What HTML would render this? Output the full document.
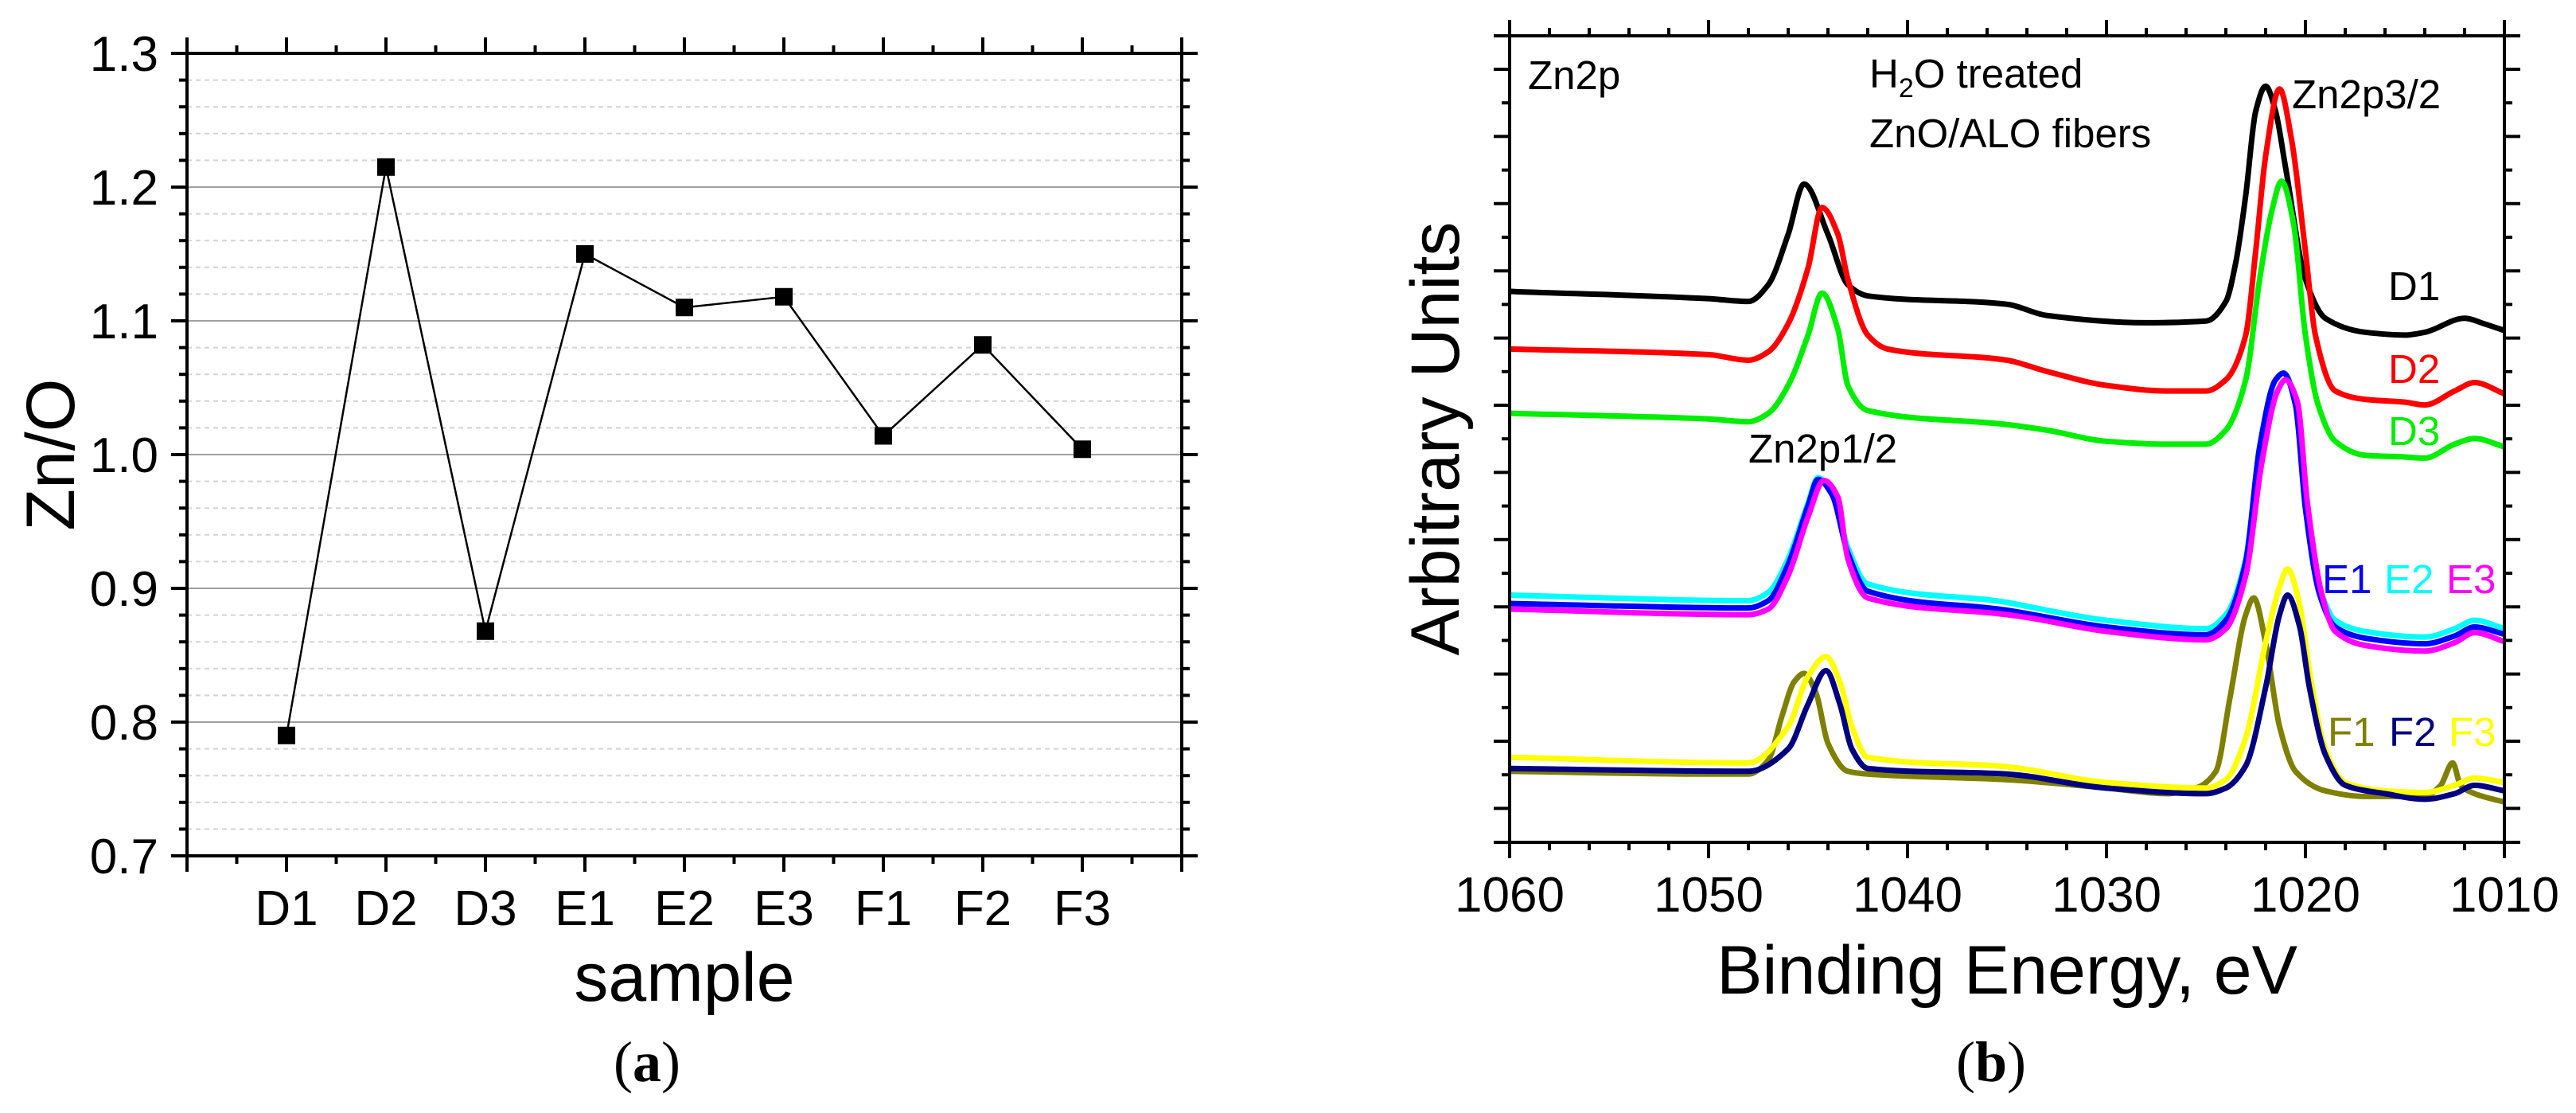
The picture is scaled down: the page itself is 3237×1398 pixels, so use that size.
<!DOCTYPE html>
<html><head><meta charset="utf-8">
<style>
html,body{margin:0;padding:0;background:#fff;}
svg{display:block;font-family:"Liberation Sans",Arial,sans-serif;}
</style></head>
<body>
<svg id="fig" width="3237" height="1398" viewBox="0 0 3237 1398" xmlns="http://www.w3.org/2000/svg">
  <rect x="0" y="0" width="3237" height="1398" fill="#fff"/>
  <g id="chartA"></g>
  <g id="chartB"></g>
</svg>
<script>
// ---------- Chart (a) data ----------
const categories = ["D1","D2","D3","E1","E2","E3","F1","F2","F3"];
const znoValues = [0.79,1.215,0.868,1.15,1.11,1.118,1.014,1.082,1.004];
const yTicksA = ["0.7","0.8","0.9","1.0","1.1","1.2","1.3"];

// ---------- Chart (b) data (energy in eV; intensity in arbitrary units, inverted raw scale) ----------
const xTicksB = [1060,1050,1040,1030,1020,1010];
const eD1=[1060,1050,1048,1047,1046,1045.2,1044,1043,1042,1035,1033,1028,1025,1024,1023.5,1023,1022.5,1022,1021.5,1021,1020,1019,1017,1015,1014,1012,1011,1010];
const vD1=[522,535,540,510,420,330,420,510,530,545,565,578,575,540,470,350,200,155,200,300,500,570,595,600,595,570,580,592];
const eD2=[1060,1050,1048,1047,1046,1045,1044.3,1043.5,1043,1042,1041,1035,1033,1030,1027,1025,1024,1023,1022.5,1022,1021.3,1020.7,1020,1019.5,1018.5,1017,1015,1014,1012.5,1011.5,1010];
const vD2=[625,635,645,630,580,480,372,420,500,600,625,645,665,690,700,700,680,600,450,280,160,250,450,600,700,715,720,725,700,685,705];
const eD3=[1060,1050,1048,1047,1046,1045,1044.3,1043.5,1043,1042,1035,1033,1030,1027,1025,1024,1023,1022.3,1021.7,1021.2,1020.6,1020,1019.4,1018.5,1017,1015,1014,1012.5,1011.5,1010];
const vD3=[740,750,755,740,690,600,525,590,690,735,760,770,790,795,795,770,680,500,380,325,400,600,720,790,815,818,820,795,785,800];
const eE=[1060,1048,1047,1046,1045,1044.5,1043.8,1043,1042,1035,1034,1030,1025,1024,1023,1022.3,1021.5,1021.1,1020.5,1020,1019.3,1018.5,1017,1014,1012.5,1011.5,1010];
const vE1=[1080,1088,1075,1010,905,858,885,990,1058,1092,1098,1122,1136,1110,1005,800,680,668,725,910,1062,1122,1142,1152,1138,1122,1135];
const vE2=[1065,1075,1060,1000,900,855,880,980,1045,1078,1085,1110,1125,1100,1000,800,680,668,720,900,1050,1110,1130,1140,1125,1110,1125];
const eE3=[1060,1048,1047,1046,1045,1044.2,1043.5,1043,1042,1035,1034,1030,1025,1024,1023,1022.2,1021.4,1021,1020.4,1019.9,1019.2,1018.5,1017,1014,1012.5,1011.5,1010];
const vE3=[1090,1100,1090,1030,925,860,890,1000,1070,1100,1105,1130,1145,1125,1030,830,700,680,720,900,1060,1130,1155,1165,1150,1132,1148];
const eF1=[1060,1050,1048,1047,1046.3,1045.7,1045.2,1044.6,1044,1043,1042,1035,1030,1027,1025.5,1024.5,1023.8,1023,1022.6,1022,1021.3,1020.5,1019,1017,1014,1013.2,1012.6,1012.2,1011.5,1010];
const vF1=[1380,1385,1385,1360,1280,1220,1205,1240,1330,1380,1385,1395,1410,1420,1410,1380,1250,1100,1070,1150,1300,1380,1415,1425,1425,1405,1365,1405,1420,1435];
const eF=[1060,1048,1046,1045,1044.1,1043.4,1042.8,1042,1035,1030,1025,1024,1023,1022,1021.3,1020.9,1020.3,1019.8,1019,1018,1016,1014,1012.5,1011.5,1010];
const vF2=[1375,1380,1340,1260,1200,1260,1340,1375,1385,1410,1420,1410,1370,1230,1100,1065,1120,1230,1350,1405,1420,1430,1420,1405,1415];
const vF3=[1355,1365,1300,1210,1175,1220,1300,1355,1372,1400,1410,1395,1320,1150,1050,1018,1080,1200,1340,1400,1415,1418,1405,1392,1400];

const NS="http://www.w3.org/2000/svg";
function mk(parent,tag,attrs,text){const e=document.createElementNS(NS,tag);for(const k in attrs)e.setAttribute(k,attrs[k]);if(text!==undefined)e.textContent=text;parent.appendChild(e);return e;}
// monotone cubic (Fritsch-Carlson) in x
function monoPath(p){
  const n=p.length, d=[], m=[];
  for(let i=0;i<n-1;i++) d.push((p[i+1][1]-p[i][1])/(p[i+1][0]-p[i][0]));
  m[0]=d[0]; m[n-1]=d[n-2];
  for(let i=1;i<n-1;i++){
    if(d[i-1]*d[i]<=0) m[i]=0;
    else { const h0=p[i][0]-p[i-1][0], h1=p[i+1][0]-p[i][0];
      const w1=2*h1+h0, w2=h1+2*h0; m[i]=(w1+w2)/(w1/d[i-1]+w2/d[i]); }
  }
  let s='M'+p[0][0]+','+p[0][1];
  for(let i=0;i<n-1;i++){
    const h=(p[i+1][0]-p[i][0])/3;
    s+=' C'+(p[i][0]+h)+','+(p[i][1]+m[i]*h)+' '+(p[i+1][0]-h)+','+(p[i+1][1]-m[i+1]*h)+' '+p[i+1][0]+','+p[i+1][1];
  }
  return s;
}

// ---------- Chart (a) ----------
(function(){
  const g=document.getElementById('chartA');
  const L=235,R=1485,T=67,B=1075;
  const xA=i=>L+(R-L)*(i/10);
  const yA=v=>B-(v-0.7)/0.6*(B-T);
  for(let k=1;k<30;k++){
    const v=0.7+k*0.02; const y=yA(v);
    if(k%5===0){
      const ln=mk(g,'line',{x1:L,x2:R,y1:y,y2:y,stroke:'#a0a0a0','stroke-width':2});
      
      
    } else {
      const ln=mk(g,'line',{x1:L,x2:R,y1:y,y2:y,stroke:'#d4d4d4','stroke-width':2,'stroke-dasharray':'6,5'});
      
      
    }
  }
  for(let k=0;k<=30;k++){
    const y=yA(0.7+k*0.02); const len=(k%5===0)?20:10;
    mk(g,'line',{x1:L-len,x2:L,y1:y,y2:y,stroke:'#000','stroke-width':4});
    mk(g,'line',{x1:R,x2:R+len,y1:y,y2:y,stroke:'#000','stroke-width':4});
  }
  for(let k=0;k<=20;k++){
    const x=xA(k/2); const len=(k%2===0)?20:10;
    mk(g,'line',{x1:x,x2:x,y1:B,y2:B+len,stroke:'#000','stroke-width':4});
    mk(g,'line',{x1:x,x2:x,y1:T-len,y2:T,stroke:'#000','stroke-width':4});
  }
  const fr=mk(g,'rect',{x:L,y:T,width:R-L,height:B-T,fill:'none',stroke:'#000','stroke-width':4});
  
  
  yTicksA.forEach(t=>{
    const tx=mk(g,'text',{x:L-36,y:yA(parseFloat(t))+22,'font-size':62,'text-anchor':'end',fill:'#000'},t);
    
    
  });
  categories.forEach((c,i)=>{
    const tx=mk(g,'text',{x:xA(i+1),y:1162,'font-size':62,'text-anchor':'middle',fill:'#000'},c);
    
    
  });
  const pts=znoValues.map((v,i)=>xA(i+1)+','+yA(v)).join(' ');
  const pl=mk(g,'polyline',{points:pts,fill:'none',stroke:'#000','stroke-width':2.5});
  
  
  znoValues.forEach((v,i)=>{
    const r=mk(g,'rect',{x:xA(i+1)-11,y:yA(v)-11,width:22,height:22,fill:'#000'});
    
    
  });
  const xt=mk(g,'text',{x:860,y:1257,'font-size':86,'text-anchor':'middle',fill:'#000'},'sample');
  
  
  const yt=mk(g,'text',{x:0,y:0,'font-size':86,'text-anchor':'middle',fill:'#000',transform:'translate(93,571) rotate(-90)'},'Zn/O');
  
  
  const cap=mk(g,'text',{x:813,y:1358,'font-size':72,'text-anchor':'middle',fill:'#000','font-family':'"Liberation Serif",serif'});
  
  
  cap.innerHTML='(<tspan font-weight="bold">a</tspan>)';
})();

// ---------- Chart (b) ----------
(function(){
  const g=document.getElementById('chartB');
  const L=1897,R=3147,T=45,B=1058;
  const xB=e=>L+(1060-e)/50*(R-L);
  const yB=v=>T+(v-65)/(1507-65)*(B-T);
  for(let k=0;k<=23;k++){
    const y=87+k*42.2; if(y>B-2)break;
    const len=(k%2===0)?20:10;
    mk(g,'line',{x1:L-len,x2:L,y1:y,y2:y,stroke:'#000','stroke-width':4});
    mk(g,'line',{x1:R,x2:R+len,y1:y,y2:y,stroke:'#000','stroke-width':4});
  }
  mk(g,'line',{x1:L-20,x2:L,y1:B,y2:B,stroke:'#000','stroke-width':4});
  mk(g,'line',{x1:R,x2:R+20,y1:B,y2:B,stroke:'#000','stroke-width':4});
  mk(g,'line',{x1:L-20,x2:L,y1:T,y2:T,stroke:'#000','stroke-width':4});
  mk(g,'line',{x1:R,x2:R+20,y1:T,y2:T,stroke:'#000','stroke-width':4});
  for(let e=1060;e>=1010;e-=2){
    const x=xB(e); const len=(e%10===0)?20:10;
    mk(g,'line',{x1:x,x2:x,y1:B,y2:B+len,stroke:'#000','stroke-width':4});
    mk(g,'line',{x1:x,x2:x,y1:T-len,y2:T,stroke:'#000','stroke-width':4});
  }
  const series=[
    ['d1',eD1,vD1,'#000000'],['d2',eD2,vD2,'#ff0000'],['d3',eD3,vD3,'#00ee00'],
    ['e2',eE,vE2,'#00ffff'],['e1',eE,vE1,'#0000ff'],['e3',eE3,vE3,'#ff00ff'],
    ['f1',eF1,vF1,'#808000'],['f3',eF,vF3,'#ffff00'],['f2',eF,vF2,'#000080']
  ];
  series.forEach(s=>{
    const p=s[1].map((e,i)=>[xB(e),yB(s[2][i])]);
    const pl=mk(g,'path',{d:monoPath(p),fill:'none',stroke:s[3],'stroke-width':7,'stroke-linejoin':'round'});
    
    
  });
  const fr=mk(g,'rect',{x:L,y:T,width:R-L,height:B-T,fill:'none',stroke:'#000','stroke-width':4});
  
  
  xTicksB.forEach(t=>{
    const tx=mk(g,'text',{x:xB(t),y:1145,'font-size':62,'text-anchor':'middle',fill:'#000'},String(t));
    
    
  });
  const xt=mk(g,'text',{x:2522,y:1248,'font-size':86,'text-anchor':'middle',fill:'#000'},'Binding Energy, eV');
  
  
  const yt=mk(g,'text',{x:0,y:0,'font-size':86,'text-anchor':'middle',fill:'#000',transform:'translate(1833,551) rotate(-90)'},'Arbitrary Units');
  
  
  const cap=mk(g,'text',{x:2502,y:1358,'font-size':72,'text-anchor':'middle',fill:'#000','font-family':'"Liberation Serif",serif'});
  
  
  cap.innerHTML='(<tspan font-weight="bold">b</tspan>)';
  const ann=[
    ['zn2p-label','Zn2p',1920,112,'#000'],
    ['zn2p32-label','Zn2p3/2',2880,136,'#000'],
    ['zn2p12-label','Zn2p1/2',2197,581,'#000'],
    ['fibers-label','ZnO/ALO fibers',2349,185,'#000'],
    ['label-d1','D1',3001,377,'#000'],
    ['label-d2','D2',3001,481,'#ff0000'],
    ['label-d3','D3',3001,559,'#00ee00'],
    ['label-e1','E1',2918,745,'#0000ff'],
    ['label-e2','E2',2996,745,'#00ffff'],
    ['label-e3','E3',3074,745,'#ff00ff'],
    ['label-f1','F1',2925,937,'#808000'],
    ['label-f2','F2',3002,937,'#000080'],
    ['label-f3','F3',3077,937,'#ffff00']
  ];
  ann.forEach(a=>{
    const tx=mk(g,'text',{x:a[2],y:a[3],'font-size':51,fill:a[4]},a[1]);
    
    
  });
  const h=mk(g,'text',{x:2349,y:110,'font-size':51,fill:'#000'});
  
  
  h.innerHTML='H<tspan font-size="34" dy="12">2</tspan><tspan dy="-12">O treated</tspan>';
})();
</script>
</body></html>
